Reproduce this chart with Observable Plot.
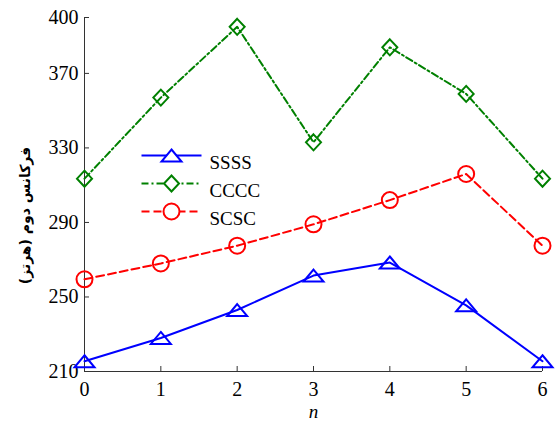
<!DOCTYPE html>
<html><head><meta charset="utf-8">
<script src="https://cdn.jsdelivr.net/npm/d3@7"></script>
<script src="https://cdn.jsdelivr.net/npm/@observablehq/plot@0.6"></script>
<style>body{margin:0;background:#fff}</style>
</head><body><div id="chart"></div>
<script>
const nValues = [0, 1, 2, 3, 4, 5, 6];
const ssss = [215.5, 228, 243, 261.5, 268.5, 245.5, 215.5];
const cccc = [313.5, 357, 395, 333, 384, 359, 313.5];
const scsc = [259.5, 268, 277.5, 289, 302, 316, 277.5];
const seriesNames = ["SSSS", "CCCC", "SCSC"];
const yTicks = [210, 250, 290, 330, 370, 400];
const xTicks = [0, 1, 2, 3, 4, 5, 6];
const yLabel = "فرکانس دوم (هرتز)";
const xLabel = "n";

const serif = "'Liberation Serif', serif";
const arabicFont = "'DejaVu Sans', sans-serif";
const colors = {SSSS: "#0000ff", CCCC: "#008000", SCSC: "#ff0000"};
const dashes = {SSSS: null, CCCC: "7,3,2,3", SCSC: "8,4"};
const triangle = {draw(ctx) { ctx.moveTo(0, -6); ctx.lineTo(10, 6); ctx.lineTo(-10, 6); ctx.closePath(); }};
const diamond = {draw(ctx) { ctx.moveTo(0, -8); ctx.lineTo(7.5, 0); ctx.lineTo(0, 8); ctx.lineTo(-7.5, 0); ctx.closePath(); }};
const circle = {draw(ctx) { ctx.moveTo(8, 0); ctx.arc(0, 0, 8, 0, 2 * Math.PI); }};
const symbols = {SSSS: triangle, CCCC: diamond, SCSC: circle};
const legendLine = {draw(ctx) { ctx.moveTo(-30, 0); ctx.lineTo(30, 0); }};

const valuesBy = {SSSS: ssss, CCCC: cccc, SCSC: scsc};
const marks = [];
for (const s of seriesNames) {
  const data = nValues.map((n, i) => ({n, v: valuesBy[s][i]}));
  marks.push(Plot.line(data, {x: "n", y: "v", stroke: colors[s], strokeWidth: 2, strokeDasharray: dashes[s]}));
  marks.push(Plot.dot(data, {x: "n", y: "v", symbol: symbols[s], stroke: colors[s], strokeWidth: 2, fill: "none"}));
}
seriesNames.forEach((s, i) => {
  const dy = 138 + i * 28;
  marks.push(Plot.dot([s], {x: null, y: null, frameAnchor: "top-left", dx: 87, dy, symbol: legendLine, stroke: colors[s], strokeWidth: 2, strokeDasharray: dashes[s]}));
  marks.push(Plot.dot([s], {x: null, y: null, frameAnchor: "top-left", dx: 87, dy, symbol: symbols[s], stroke: colors[s], strokeWidth: 2, fill: "white"}));
  marks.push(Plot.text([s], {frameAnchor: "top-left", dx: 125, dy, textAnchor: "start", fontSize: 19, fill: "black"}));
});

const chart = Plot.plot({
  width: 558, height: 425,
  marginLeft: 84, marginRight: 16, marginTop: 17, marginBottom: 54,
  style: {fontSize: "20px", background: "white", color: "black"},
  x: {domain: [0, 6]},
  y: {domain: [210, 400]},
  marks: [
    Plot.axisY({ticks: yTicks, tickSize: 0, tickPadding: 6, label: null, fontSize: 20, tickFormat: d3.format("d")}),
    Plot.axisY({ticks: yTicks, tickSize: 5, dx: 5, tickFormat: () => "", label: null, stroke: "#333"}),
    Plot.axisX({ticks: xTicks, tickSize: 0, tickPadding: 10, label: null, fontSize: 20, tickFormat: d3.format("d")}),
    Plot.axisX({ticks: xTicks, tickSize: 5, dy: -5, tickFormat: () => "", label: null, stroke: "#333"}),
    Plot.ruleX([0], {stroke: "#333", strokeWidth: 1}),
    Plot.ruleY([210], {stroke: "#333", strokeWidth: 1}),
    ...marks,
    Plot.text([xLabel], {frameAnchor: "bottom", dy: 46, fontStyle: "italic", fontSize: 19, fill: "black"}),
    Plot.text([yLabel], {frameAnchor: "left", dx: -59, dy: 21, rotate: -90, textAnchor: "middle", fontSize: 14, fontWeight: "bold", fill: "black"})
  ]
});
d3.select(chart).selectAll("text").each(function() {
  d3.select(this).style("font-family", this.textContent === yLabel ? arabicFont : serif);
});
document.getElementById("chart").appendChild(chart);
</script></body></html>
